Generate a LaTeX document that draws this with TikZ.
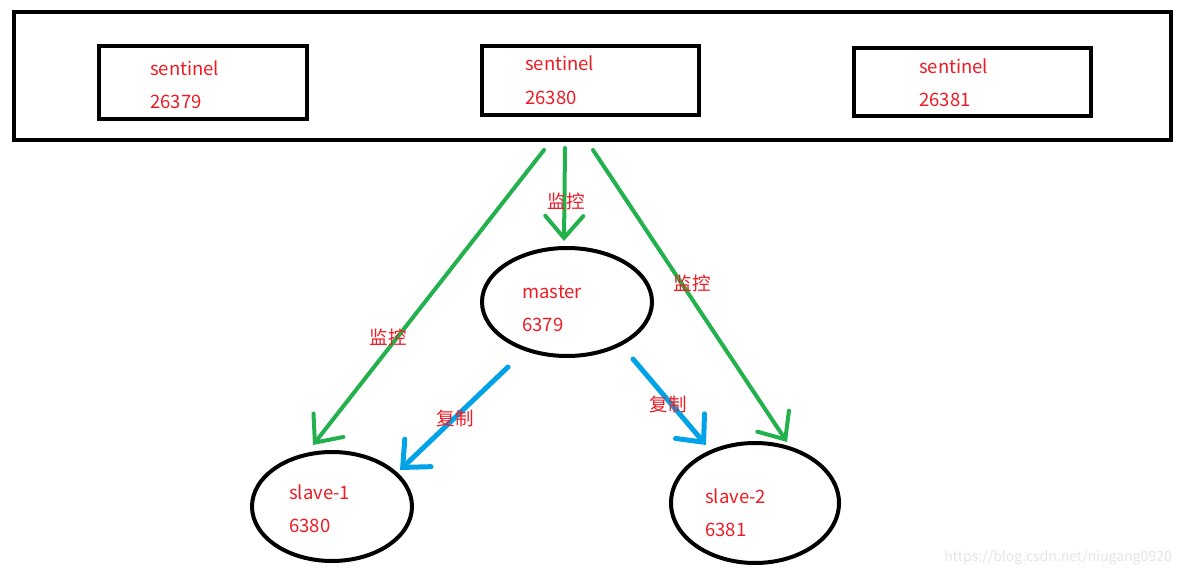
\documentclass[tikz,border=0pt]{standalone}
\usepackage{fontspec}
\setmainfont{Noto Sans CJK SC}
\usetikzlibrary{arrows.meta,shapes.geometric}
\definecolor{pred}{HTML}{ED1C24}
\definecolor{pgreen}{HTML}{22B14C}
\definecolor{pblue}{HTML}{00A2E8}
\begin{document}
\begin{tikzpicture}[x=1pt,y=-1pt,
  frame/.style={draw=black,line width=4pt,rectangle,inner sep=0pt},
  oval/.style={draw=black,line width=4pt,ellipse,inner sep=0pt},
  txt/.style={text=pred,font=\fontsize{18.5}{18.5}\selectfont,anchor=base west,inner sep=0pt},
  lbl/.style={text=pred,font=\fontsize{18.5}{18.5}\selectfont,inner sep=0pt},
  watch/.style={pgreen,line width=4pt,line cap=round,-{Straight Barb[length=22pt,width=38pt,line cap=round]}},
  repl/.style={pblue,line width=5pt,line cap=round,-{Straight Barb[length=21pt,width=38pt,line cap=round]}}]
\useasboundingbox[fill=white] (0,0) rectangle (1181,575);

% sentinel group
\node[frame,minimum width=1157pt,minimum height=128pt] (group) at (592.5,76) {};
\node[frame,minimum width=208pt,minimum height=73pt] (s1) at (203,82.5) {};
\node[frame,minimum width=217pt,minimum height=69pt] (s2) at (590.5,80.5) {};
\node[frame,minimum width=237pt,minimum height=68pt] (s3) at (972.5,82) {};
\node[txt] (s1a) at (150,76) {sentinel};
\node[txt] (s1b) at (150,109) {26379};
\node[txt] (s2a) at (525,71) {sentinel};
\node[txt] (s2b) at (525,105) {26380};
\node[txt] (s3a) at (919,74) {sentinel};
\node[txt] (s3b) at (919,107) {26381};

% redis nodes
\node[oval,minimum width=170pt,minimum height=108pt] (master) at (567,302) {};
\node[oval,minimum width=160pt,minimum height=109pt] (slave1) at (332,506.5) {};
\node[oval,minimum width=168pt,minimum height=120pt] (slave2) at (755,503) {};
\node[txt] (ma) at (522,298) {master};
\node[txt] (mb) at (522,331) {6379};
\node[txt] (sa1) at (289,499) {slave-1};
\node[txt] (sb1) at (289,532) {6380};
\node[txt] (sa2) at (705,503) {slave-2};
\node[txt] (sb2) at (705,536) {6381};

% connector end points
\coordinate (gL) at (544,150);
\coordinate (gM) at (565,148);
\coordinate (gR) at (593,150);
\coordinate (tL) at (313,445);
\coordinate (tM) at (564,241);
\coordinate (tR) at (787,442);
\coordinate (bL) at (508,367);
\coordinate (bR) at (633,359);
\coordinate (uL) at (400,470);
\coordinate (uR) at (706,445);

\draw[watch] (gL) -- (tL);
\draw[watch] (gM) -- (tM);
\draw[watch] (gR) -- (tR);
\draw[repl] (bL) -- (uL);
\draw[repl] (bR) -- (uR);

\node[lbl] (w1) at (566,201) {监控};
\node[lbl] (w2) at (388,337) {监控};
\node[lbl] (w3) at (692,283) {监控};
\node[lbl] (r1) at (455,418) {复制};
\node[lbl] (r2) at (668,404) {复制};

\node[text=black!10,font=\fontsize{14}{14}\selectfont,anchor=base east,inner sep=0pt] (wm) at (1172,561) {https://blog.csdn.net/niugang0920};
\end{tikzpicture}
\end{document}
